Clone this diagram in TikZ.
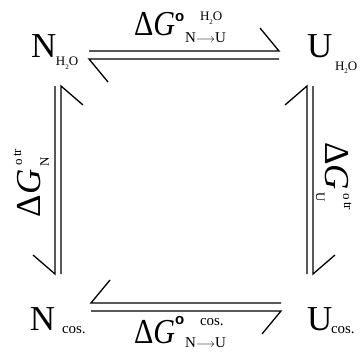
\documentclass[tikz,border=0pt]{standalone}
\usepackage{fontspec}
\setmainfont{Liberation Serif}
\setsansfont{Liberation Sans}
\newcommand{\fbig}{\fontsize{35}{35}\selectfont}
\newcommand{\fmid}{\fontsize{15}{15}\selectfont}
\newcommand{\fsm}{\fontsize{13}{13}\selectfont}
\newcommand{\ftiny}{\fontsize{7}{7}\selectfont}
\newcommand{\water}{\fsm H\raisebox{-4pt}{\ftiny 2}O}
\newcommand{\cosx}{\fmid cos.}
\newcommand{\ringb}{{\sffamily\bfseries\fontsize{15}{15}\selectfont o}}
\newcommand{\NtoU}{{\fmid N}{\fontsize{12}{12}\selectfont$\longrightarrow$}{\fmid U}}
\newcommand{\dG}{{\fbig Δ\textit{G}}}
\newcommand{\vlab}[1]{\dG\makebox[0pt][l]{\hspace{4pt}\raisebox{18pt}{\fsm o}\hspace{2pt}\raisebox{19pt}{\fsm tr}}\hspace{3pt}\raisebox{-9pt}{\fsm #1}}
\begin{document}
\begin{tikzpicture}[x=1pt,y=-1pt,
  harp/.style={line width=1.3pt, line join=miter},
  txt/.style={anchor=base west, inner sep=0pt, outer sep=0pt}]
\useasboundingbox (0,0) rectangle (362,356);
% species
\node[txt] (nH) at (31,57) {\fbig N};
\node[txt] (nHs) at (56,65) {\water};
\node[txt] (uH) at (307,57) {\fbig U};
\node[txt] (uHs) at (335,70) {\water};
\node[txt] (nC) at (30,330) {\fbig N};
\node[txt] (nCs) at (62,333) {\cosx};
\node[txt] (uC) at (307,330) {\fbig U};
\node[txt] (uCs) at (331,333) {\cosx};
% top label
\node[txt] (tG) at (134,35) {\scalebox{0.86}[1]{\dG}};
\node[txt] (tR) at (175,21) {\ringb};
\node[txt] (tS) at (200,20) {\water};
\node[txt] (tB) at (185,42) {\NtoU};
% bottom label
\node[txt] (bG) at (134,343) {\scalebox{0.86}[1]{\dG}};
\node[txt] (bR) at (175,324) {\ringb};
\node[txt] (bS) at (200,325) {\cosx};
\node[txt] (bB) at (185,347) {\NtoU};
% vertical labels
\node[txt, rotate=90] (lL) at (40,217) {\vlab{N}};
\node[txt, rotate=-90] (rL) at (325,142) {\vlab{U}};
% top harpoons
\coordinate (t1a) at (89,51); \coordinate (t1b) at (279,51);
\coordinate (t2a) at (89,59); \coordinate (t2b) at (279,59);
\draw[harp] (t1a) -- (t1b) -- ++(-19,-23);
\draw[harp] (t2b) -- (t2a) -- ++(19,23);
% bottom harpoons
\coordinate (b1a) at (91,303); \coordinate (b1b) at (281,303);
\coordinate (b2a) at (91,311); \coordinate (b2b) at (281,311);
\draw[harp] (b1b) -- (b1a) -- ++(19,-23);
\draw[harp] (b2a) -- (b2b) -- ++(-19,23);
% left harpoons
\coordinate (l1a) at (55,86); \coordinate (l1b) at (55,274);
\coordinate (l2a) at (61,86); \coordinate (l2b) at (61,274);
\draw[harp] (l1a) -- (l1b) -- ++(-22,-19);
\draw[harp] (l2b) -- (l2a) -- ++(22,19);
% right harpoons
\coordinate (r1a) at (307,86); \coordinate (r1b) at (307,274);
\coordinate (r2a) at (313,86); \coordinate (r2b) at (313,274);
\draw[harp] (r1b) -- (r1a) -- ++(-22,19);
\draw[harp] (r2a) -- (r2b) -- ++(22,-19);
\end{tikzpicture}
\end{document}
